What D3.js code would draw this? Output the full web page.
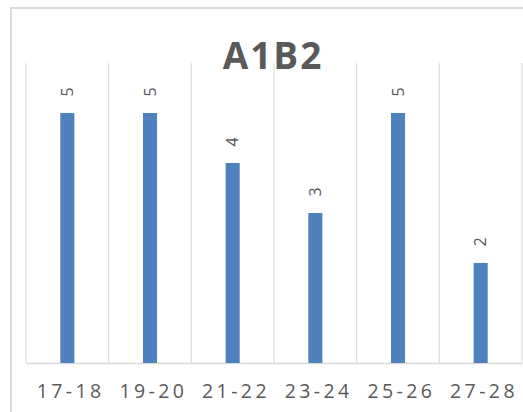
<!DOCTYPE html>
<html>
<head>
<meta charset="utf-8">
<script src="https://cdn.jsdelivr.net/npm/d3@7"></script>
<style>
  html, body { margin: 0; padding: 0; background: #ffffff; }
  svg { display: block; }
</style>
</head>
<body>
<svg id="chart" width="523" height="412"></svg>
<script>
// Chart data
const categories = ["17-18", "19-20", "21-22", "23-24", "25-26", "27-28"];
const values = [5, 5, 4, 3, 5, 2];
const chartTitle = "A1B2";
const yMax = 6;

const W = 523, H = 412;
const plot = { left: 26, right: 522, top: 63, bottom: 363 };
const textColor = "#595959";
const gridColor = "#d9d9d9";
const barColor = "#4f81bd";
const fontFamily = "'Open Sans', 'Noto Sans', sans-serif";

const svg = d3.select("#chart");

// Chart area frame (runs off the right and bottom edges)
svg.append("rect")
  .attr("x", 11).attr("y", 8)
  .attr("width", 620).attr("height", 520)
  .attr("fill", "#ffffff")
  .attr("stroke", gridColor)
  .attr("stroke-width", 2);

const x = d3.scaleBand()
  .domain(categories)
  .range([plot.left, plot.right])
  .padding(0);

const y = d3.scaleLinear()
  .domain([0, yMax])
  .range([plot.bottom, plot.top]);

// Vertical gridlines between categories
const boundaries = categories.map(c => x(c)).concat([x.range()[1]]);
svg.append("g")
  .selectAll("line")
  .data(boundaries)
  .join("line")
  .attr("x1", d => d).attr("x2", d => d)
  .attr("y1", y(yMax)).attr("y2", y(0))
  .attr("stroke", gridColor)
  .attr("stroke-width", 1);

// Category axis
const xAxis = svg.append("g")
  .attr("transform", `translate(0,${y(0)})`)
  .call(d3.axisBottom(x).tickSize(0).tickPadding(0));
xAxis.select(".domain")
  .attr("stroke", gridColor)
  .attr("stroke-width", 1.5);
xAxis.selectAll("text")
  .attr("y", 35)
  .attr("dy", 0)
  .attr("dx", "0.17em")
  .attr("fill", textColor)
  .style("font-family", fontFamily)
  .style("font-size", "19.5px")
  .style("letter-spacing", "3.4px");

// Bars
const barW = x.bandwidth() * 0.17;
svg.append("g")
  .selectAll("rect")
  .data(values)
  .join("rect")
  .attr("x", (d, i) => x(categories[i]) + x.bandwidth() / 2 - barW / 2)
  .attr("y", d => y(d))
  .attr("width", barW)
  .attr("height", d => y(0) - y(d))
  .attr("fill", barColor);

// Value labels, rotated
svg.append("g")
  .selectAll("text")
  .data(values)
  .join("text")
  .attr("transform", (d, i) =>
    `translate(${x(categories[i]) + x.bandwidth() / 2},${y(d) - 21}) rotate(-90)`)
  .attr("text-anchor", "middle")
  .attr("dy", "0.36em")
  .attr("fill", textColor)
  .style("font-family", fontFamily)
  .style("font-size", "16px")
  .text(d => d);

// Title
svg.append("text")
  .attr("x", 272)
  .attr("y", 69)
  .attr("text-anchor", "middle")
  .attr("dx", "1px")
  .attr("fill", textColor)
  .style("font-family", fontFamily)
  .style("font-weight", "bold")
  .style("font-size", "37px")
  .style("letter-spacing", "2px")
  .text(chartTitle);
</script>
</body>
</html>
